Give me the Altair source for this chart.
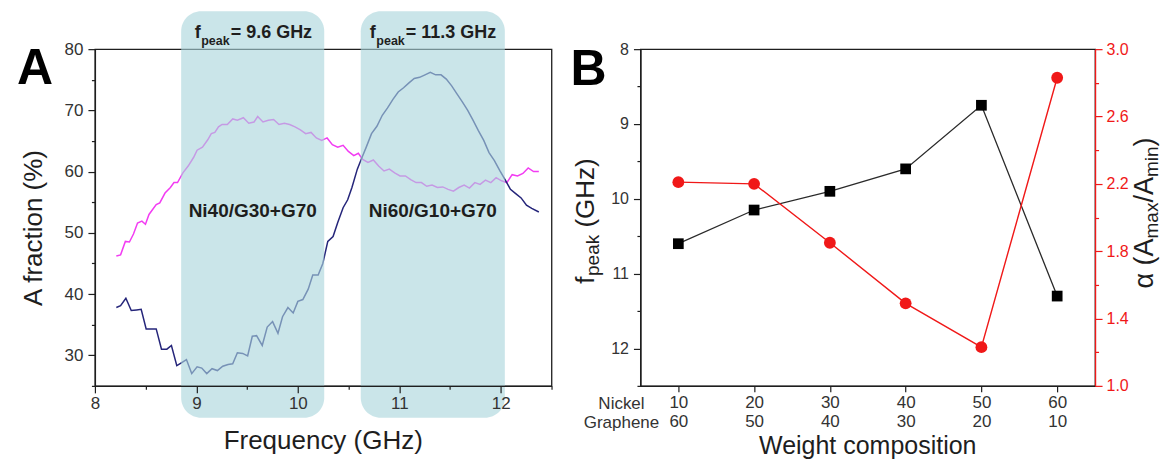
import altair as alt
import pandas as pd

FONT = "Liberation Sans"

# ---------------- Panel A data (absorption fraction vs frequency) ----------------
mag_freq = [8.211, 8.253, 8.30, 8.34, 8.38, 8.42, 8.463, 8.498, 8.533, 8.604, 8.639, 8.691,
            8.744, 8.779, 8.814, 8.867, 8.919, 8.972, 9.007, 9.060, 9.112, 9.147, 9.182,
            9.218, 9.253, 9.305, 9.358, 9.404, 9.463, 9.516, 9.568, 9.604, 9.656, 9.709,
            9.761, 9.814, 9.867, 9.919, 9.972, 10.025, 10.077, 10.130, 10.182, 10.235,
            10.288, 10.340, 10.393, 10.446, 10.498, 10.551, 10.596, 10.639, 10.691, 10.744,
            10.796, 10.849, 10.902, 10.954, 11.007, 11.060, 11.112, 11.165, 11.218, 11.270,
            11.323, 11.375, 11.428, 11.481, 11.533, 11.586, 11.639, 11.691, 11.744, 11.796,
            11.849, 11.902, 11.954, 12.007, 12.060, 12.112, 12.165, 12.218, 12.270, 12.323,
            12.375]
mag_val = [46.2, 46.4, 48.6, 48.5, 49.8, 51.6, 51.9, 51.4, 53.0, 54.6, 54.9, 56.5,
           57.4, 58.2, 58.2, 59.8, 60.9, 62.3, 63.5, 64.0, 65.2, 66.2, 66.4,
           67.3, 67.7, 67.7, 68.6, 68.4, 68.8, 67.9, 68.1, 69.0, 68.1, 68.4,
           68.5, 67.7, 67.9, 67.7, 67.3, 66.8, 66.2, 66.4, 65.5, 65.1,
           65.5, 64.4, 64.0, 64.3, 63.3, 62.6, 63.0, 62.0, 61.5, 61.9,
           60.9, 60.1, 60.4, 59.8, 59.3, 59.3, 58.7, 58.2, 58.2, 57.6,
           57.8, 57.4, 57.5, 57.1, 56.8, 57.4, 57.8, 57.3, 58.2, 57.9,
           58.6, 58.2, 59.0, 58.5, 58.2, 59.5, 59.3, 59.7, 60.6, 60.0,
           60.0]

navy_freq = [8.211, 8.253, 8.305, 8.358, 8.411, 8.456, 8.505, 8.551, 8.604, 8.656, 8.709,
             8.754, 8.807, 8.856, 8.902, 8.954, 9.007, 9.053, 9.102, 9.154, 9.207, 9.260,
             9.312, 9.358, 9.404, 9.456, 9.505, 9.551, 9.593, 9.649, 9.698, 9.751, 9.804,
             9.849, 9.902, 9.954, 10.000, 10.049, 10.102, 10.147, 10.200, 10.246, 10.295,
             10.347, 10.393, 10.446, 10.491, 10.533, 10.586, 10.632, 10.674, 10.726, 10.779,
             10.832, 10.884, 10.937, 10.989, 11.042, 11.095, 11.147, 11.200, 11.253, 11.305,
             11.358, 11.411, 11.463, 11.516, 11.568, 11.621, 11.674, 11.726, 11.779, 11.832,
             11.884, 11.937, 11.989, 12.042, 12.095, 12.147, 12.200, 12.253, 12.305, 12.375]
navy_val = [37.8, 38.1, 39.3, 37.3, 37.4, 37.5, 34.3, 34.3, 34.3, 31.0, 31.0,
            31.6, 28.3, 28.8, 29.3, 27.0, 28.1, 27.9, 27.0, 27.8, 27.5, 28.2,
            28.5, 28.6, 30.4, 30.3, 29.9, 33.1, 33.2, 31.6, 34.6, 35.5, 33.6,
            36.3, 37.8, 36.9, 38.8, 39.1, 40.8, 43.1, 43.1, 45.0, 48.6,
            49.4, 51.7, 54.1, 55.4, 57.4, 60.4, 62.3, 64.0, 66.2, 67.4,
            69.2, 70.4, 71.8, 73.0, 73.7, 74.5, 75.2, 75.4, 75.8, 76.2,
            75.8, 75.8, 75.1, 74.0, 72.7, 71.4, 70.0, 68.4, 66.7, 65.1,
            63.1, 61.8, 60.2, 58.7, 57.1, 56.4, 55.7, 54.5, 54.0, 53.4]

band_lo = [8.85, 10.62]
band_hi = [10.26, 12.04]
band_peak = ["9.6", "11.3"]
band_sample = ["Ni40/G30+G70", "Ni60/G10+G70"]

# ---------------- Panel B data ----------------
nickel = [10, 20, 30, 40, 50, 60]
graphene = [60, 50, 40, 30, 20, 10]
f_peak = [10.6, 10.15, 9.9, 9.6, 8.75, 11.3]
alpha = [2.21, 2.20, 1.85, 1.49, 1.23, 2.83]

# ---------------- layout ----------------
WA, WB, H = 457, 455, 337
GAP = 89
LEFT, TOP = 94, 48
XA_DOM = [8, 12.5]
PX_PER_GHZ = WA / (XA_DOM[1] - XA_DOM[0])

MAG = "#f23cf2"
NAVY = "#25257a"
RED = "#f01818"
INK = "#1e1e1e"
TICKLAB = "#333333"

# Arial / Liberation Sans advance widths (per 1000 em)
W_REG = {' ': 278, '(': 333, ')': 333, '/': 278, 'A': 667, 'G': 778, 'H': 722, 'a': 556,
         'e': 556, 'f': 278, 'i': 222, 'k': 500, 'm': 833, 'n': 556, 'p': 556, 'x': 500,
         'z': 500, 'α': 578}
W_BOLD = {' ': 278, '=': 584, '.': 278, 'G': 778, 'H': 722, 'z': 500, 'f': 333, 'p': 611,
          'e': 556, 'a': 556, 'k': 556}
for d in "0123456789":
    W_BOLD[d] = 556


def tw(s, size, bold=False):
    table = W_BOLD if bold else W_REG
    return sum(table.get(c, 556) for c in s) / 1000 * size


one = pd.DataFrame({"k": [0]})


def label(text, x, y, size, angle=0, align="center", baseline="middle", weight="normal",
          color=INK):
    kw = dict(text=text, font=FONT, fontSize=size, align=align, baseline=baseline,
              fontWeight=weight, color=color)
    if angle:
        kw["angle"] = angle
    return alt.Chart(one).mark_text(**kw).encode(x=alt.value(x), y=alt.value(y))


# ================= Panel A =================
dfm = pd.DataFrame({"f": mag_freq, "v": mag_val})
dfn = pd.DataFrame({"f": navy_freq, "v": navy_val})

xA = alt.Scale(domain=XA_DOM, nice=False, zero=False)
yA = alt.Scale(domain=[25, 80], nice=False, zero=False)
xA_vals = [8 + 0.5 * i for i in range(10)]
yA_vals = [25 + 5 * i for i in range(12)]

axA_x = alt.Axis(values=xA_vals, title=None, grid=False,
                 labelExpr="datum.value % 1 === 0 ? format(datum.value, 'd') : ''",
                 tickSize={"condition": {"test": "datum.value % 1 !== 0", "value": 3.5}, "value": 7},
                 labelFontSize=17, labelColor=TICKLAB, labelPadding=3, labelFont=FONT,
                 labelOverlap=False, labelFlush=False, domainColor=INK, tickColor=INK,
                 domainWidth=1.3, tickWidth=1.2, zindex=1)
axA_y = alt.Axis(values=yA_vals, title=None, grid=False,
                 labelExpr="datum.value % 10 === 0 ? format(datum.value, 'd') : ''",
                 tickSize={"condition": {"test": "datum.value % 10 !== 0", "value": 3.5}, "value": 7},
                 labelFontSize=17, labelColor=TICKLAB, labelPadding=5, labelFont=FONT,
                 labelOverlap=False, labelFlush=False, domainColor=INK, tickColor=INK,
                 domainWidth=1.3, tickWidth=1.2)


def XA(field):
    return alt.X(field, scale=xA, axis=axA_x, title=None)


def YA(field):
    return alt.Y(field, scale=yA, axis=axA_y, title=None)


anchor = alt.Chart(one).mark_rect(opacity=0).encode(
    x=alt.value(-LEFT), x2=alt.value(0), y=alt.value(-TOP), y2=alt.value(0))

line_mag = alt.Chart(dfm).mark_line(color=MAG, strokeWidth=1.5).encode(
    x=XA("f:Q"), y=YA("v:Q"))
line_navy = alt.Chart(dfn).mark_line(color=NAVY, strokeWidth=1.5).encode(
    x=XA("f:Q"), y=YA("v:Q"))

dfb = pd.DataFrame({"lo": band_lo, "hi": band_hi, "peak": band_peak, "sample": band_sample})
dfb["mid"] = (dfb["lo"] + dfb["hi"]) / 2

bands = alt.Chart(dfb).mark_rect(color="#a9d5dc", opacity=0.62, cornerRadius=20).encode(
    x=XA("lo:Q"), x2="hi:Q", y=alt.value(-38), y2=alt.value(H + 32))

# f_peak annotation pieces
MAIN, SUB = 18, 12.5
w_f = tw("f", MAIN, True)
w_peak = tw("peak", SUB, True)
dfb["rest"] = ["= " + p + " GHz" for p in band_peak]
dfb["start"] = [m - (w_f + w_peak + tw(r, MAIN, True)) / 2 / PX_PER_GHZ
                for m, r in zip(dfb["mid"], dfb["rest"])]

pk_f = alt.Chart(dfb).mark_text(text="f", font=FONT, fontSize=MAIN, fontWeight="bold",
                                align="left", baseline="alphabetic", color=INK).encode(
    x=XA("start:Q"), y=alt.value(-11))
pk_sub = alt.Chart(dfb).mark_text(text="peak", font=FONT, fontSize=SUB, fontWeight="bold",
                                  align="left", baseline="alphabetic", color=INK,
                                  dx=w_f + 0.5).encode(
    x=XA("start:Q"), y=alt.value(-4))
pk_rest = alt.Chart(dfb).mark_text(font=FONT, fontSize=MAIN, fontWeight="bold",
                                   align="left", baseline="alphabetic", color=INK,
                                   dx=w_f + w_peak + 1.5).encode(
    x=XA("start:Q"), y=alt.value(-11), text="rest:N")
sample_txt = alt.Chart(dfb).mark_text(font=FONT, fontSize=19, fontWeight="bold",
                                      align="center", baseline="middle", color=INK).encode(
    x=XA("mid:Q"), y=alt.value(162), text="sample:N")

panelA = alt.layer(
    anchor, line_mag, line_navy, bands, pk_f, pk_sub, pk_rest, sample_txt,
    label("A fraction (%)", -61, 179, 26, angle=270),
    label("Frequency (GHz)", WA / 2, H + 55, 26),
    label("A", -60, 20, 50, weight="bold", color="#000000"),
).properties(width=WA, height=H)

# ================= Panel B =================
dfB = pd.DataFrame({"ni": nickel, "fp": f_peak, "al": alpha})

xB = alt.Scale(domain=[5, 65], nice=False, zero=False)
yB_vals = [8 + 0.5 * i for i in range(10)]
yR_vals = [round(1 + 0.2 * i, 1) for i in range(11)]

g_lookup = "[" + ",".join("'%d'" % g for g in graphene) + "]"
n_lookup = "[" + ",".join("%d" % n for n in nickel) + "]"
axB_x = alt.Axis(values=nickel, title=None, grid=False,
                 labelExpr="[format(datum.value, 'd'), %s[indexof(%s, datum.value)]]" % (g_lookup, n_lookup),
                 tickSize=6, labelFontSize=17, labelColor=TICKLAB, labelPadding=3,
                 labelLineHeight=19, labelFont=FONT, labelOverlap=False, labelFlush=False,
                 domainColor=INK, tickColor=INK, domainWidth=1.3, tickWidth=1.2)
axB_y = alt.Axis(values=yB_vals, title=None, grid=False, orient="left",
                 labelExpr="datum.value % 1 === 0 ? format(datum.value, 'd') : ''",
                 tickSize={"condition": {"test": "datum.value % 1 !== 0", "value": 3.5}, "value": 7},
                 labelFontSize=16, labelColor=TICKLAB, labelPadding=5, labelFont=FONT,
                 labelOverlap=False, labelFlush=False, domainColor=INK, tickColor=INK,
                 domainWidth=1.3, tickWidth=1.2)
axB_r = alt.Axis(values=yR_vals, title=None, grid=False, orient="right",
                 labelExpr="round(datum.value * 5) % 2 === 1 ? format(datum.value, '.1f') : ''",
                 tickSize={"condition": {"test": "round(datum.value * 5) % 2 === 0", "value": 3.5}, "value": 7},
                 labelFontSize=16, labelColor=RED, labelPadding=4, labelFont=FONT,
                 labelOverlap=False, labelFlush=False, domainColor=RED, tickColor=RED,
                 domainWidth=1.3, tickWidth=1.2, zindex=1)

XB = alt.X("ni:Q", scale=xB, axis=axB_x, title=None)

black = alt.Chart(dfB).mark_line(
    color="#2a2a2a", strokeWidth=1.3,
    point=alt.OverlayMarkDef(shape="square", size=115, filled=True, color="#000000",
                             opacity=1)).encode(
    x=XB,
    y=alt.Y("fp:Q", scale=alt.Scale(domain=[8, 12.5], reverse=True, nice=False, zero=False),
            axis=axB_y, title=None))
red = alt.Chart(dfB).mark_line(
    color=RED, strokeWidth=1.4,
    point=alt.OverlayMarkDef(shape="circle", size=140, filled=True, color=RED,
                             opacity=1)).encode(
    x=XB,
    y=alt.Y("al:Q", scale=alt.Scale(domain=[1, 3], nice=False, zero=False), axis=axB_r,
            title=None))

# vertical titles with subscripts (rotated 270: text runs upward)
TM, TS = 26, 19
fx = -46
f_parts = [("f", TM, 0, 0), ("peak", TS, 5, 0.5), ("(GHz)", TM, 0, tw(" ", TM))]
ftotal = sum(tw(p, s) + g for p, s, _, g in f_parts)
fy = 220 - TOP + ftotal / 2
f_title = []
for p, s, off, gap in f_parts:
    fy -= gap
    f_title.append(label(p, fx + off, fy, s, angle=270, align="left", baseline="alphabetic"))
    fy -= tw(p, s)

RM, RS = 27, 19
rx = WB + 58
r_parts = [("α", RM, 0, 0), ("(A", RM, 0, tw(" ", RM)), ("max", RS, 5, 0), ("/A", RM, 0, 0),
           ("min", RS, 5, 0), (")", RM, 0, 0)]
rtotal = sum(tw(p, s) + g for p, s, _, g in r_parts)
ry = 212 - TOP + rtotal / 2
r_title = []
for p, s, off, gap in r_parts:
    ry -= gap
    r_title.append(label(p, rx + off, ry, s, angle=270, align="left", baseline="alphabetic"))
    ry -= tw(p, s)

panelB = alt.layer(
    black, red,
    label("Nickel", -19, H + 18, 17, color=TICKLAB),
    label("Graphene", -19, H + 37, 17, color=TICKLAB),
    label("Weight composition", WB / 2, H + 60, 25),
    label("B", -52, 21, 50, weight="bold", color="#000000"),
    *f_title, *r_title,
).resolve_scale(y="independent").properties(width=WB, height=H)

chart = alt.hconcat(panelA, panelB, spacing=GAP, bounds="flush").properties(
    padding=0, background="white"
).configure_view(stroke=INK, strokeWidth=1.3).configure_axis(grid=False)

chart.save("out.html", embed_options={"renderer": "svg", "actions": False})
